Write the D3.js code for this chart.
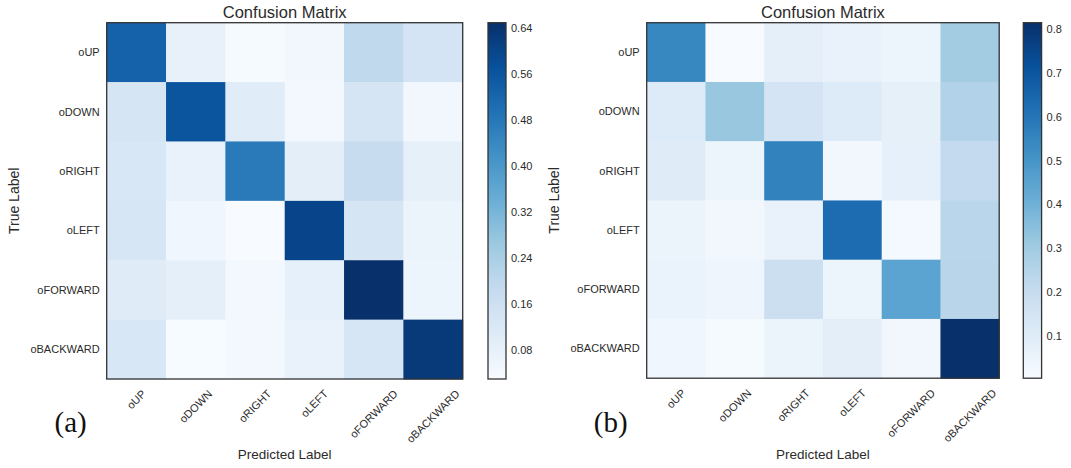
<!DOCTYPE html>
<html>
<head>
<meta charset="utf-8">
<title>Confusion Matrix</title>
<script src="https://cdn.jsdelivr.net/npm/d3@7"></script>
<style>
  body { margin: 0; background: #fff; font-family: "Liberation Sans", Arial, sans-serif; }
  svg text { fill: #2b2b2b; }
</style>
</head>
<body>
<svg id="chart" width="1071" height="468"></svg>
<script>
// class labels (same for rows and columns)
var labels = ["oUP", "oDOWN", "oRIGHT", "oLEFT", "oFORWARD", "oBACKWARD"];

// (a) normalised confusion matrix, rows = true label
var matrixA = [
  [0.530, 0.076, 0.034, 0.048, 0.194, 0.139],
  [0.134, 0.562, 0.100, 0.042, 0.136, 0.046],
  [0.128, 0.072, 0.474, 0.090, 0.178, 0.084],
  [0.132, 0.052, 0.029, 0.603, 0.134, 0.066],
  [0.104, 0.086, 0.044, 0.082, 0.650, 0.060],
  [0.126, 0.031, 0.044, 0.074, 0.130, 0.626]
];
// (b)
var matrixB = [
  [0.545, 0.004, 0.080, 0.060, 0.044, 0.295],
  [0.109, 0.318, 0.149, 0.109, 0.074, 0.260],
  [0.100, 0.044, 0.560, 0.027, 0.072, 0.212],
  [0.052, 0.027, 0.060, 0.628, 0.019, 0.236],
  [0.056, 0.040, 0.182, 0.044, 0.449, 0.242],
  [0.035, 0.011, 0.052, 0.084, 0.027, 0.815]
];

var ticksA = [0.08, 0.16, 0.24, 0.32, 0.40, 0.48, 0.56, 0.64];
var ticksB = [0.1, 0.2, 0.3, 0.4, 0.5, 0.6, 0.7, 0.8];

// matplotlib "Blues"
var blues = ["#f7fbff", "#deebf7", "#c6dbef", "#9ecae1", "#6baed6",
             "#4292c6", "#2171b5", "#08519c", "#08306b"];

var svg = d3.select("#chart");

function drawPanel(id, matrix, ticks, tickFmt, tag, box) {
  var flat = d3.merge(matrix);
  var vmin = d3.min(flat), vmax = d3.max(flat);
  var color = d3.scaleLinear()
      .domain(blues.map(function(c, i) { return vmin + i / 8 * (vmax - vmin); }))
      .range(blues)
      .interpolate(d3.interpolateRgb);

  var x = d3.scaleBand().domain(labels).range([box.x, box.x + box.w]);
  var y = d3.scaleBand().domain(labels).range([box.y, box.y + box.h]);

  var g = svg.append("g").attr("id", id);

  // cells
  matrix.forEach(function(row, i) {
    g.selectAll(null)
      .data(row)
      .enter().append("rect")
      .attr("x", function(d, j) { return x(labels[j]); })
      .attr("y", y(labels[i]))
      .attr("width", x.bandwidth() + 0.5)
      .attr("height", y.bandwidth() + 0.5)
      .attr("fill", function(d) { return color(d); });
  });

  g.append("rect")
    .attr("x", box.x).attr("y", box.y)
    .attr("width", box.w).attr("height", box.h)
    .attr("fill", "none").attr("stroke", "#333").attr("stroke-width", 1.3);

  // title
  g.append("text")
    .attr("x", box.x + box.w / 2).attr("y", 18)
    .attr("text-anchor", "middle")
    .style("font-size", "16.5px")
    .text("Confusion Matrix");

  // y tick labels
  g.selectAll(".ylab")
    .data(labels)
    .enter().append("text")
    .attr("class", "ylab")
    .attr("x", box.x - 7)
    .attr("y", function(d) { return y(d) + y.bandwidth() / 2; })
    .attr("dy", "0.35em")
    .attr("text-anchor", "end")
    .style("font-size", "11px")
    .text(function(d) { return d; });

  // x tick labels, rotated 45deg, bbox centred on tick
  var top = box.y + box.h + 9;
  g.selectAll(".xlab")
    .data(labels)
    .enter().append("text")
    .attr("class", "xlab")
    .attr("text-anchor", "middle")
    .attr("dy", "0.35em")
    .style("font-size", "11px")
    .text(function(d) { return d; })
    .each(function(d) {
      var w = this.getComputedTextLength();
      var cx = x(d) + x.bandwidth() / 2;
      var cy = top + (w + 11) / (2 * Math.SQRT2);
      d3.select(this).attr("transform", "translate(" + cx + "," + cy + ") rotate(-45)");
    });

  // axis titles
  g.append("text")
    .attr("transform", "translate(" + (box.x - 88) + "," + (box.y + box.h / 2) + ") rotate(-90)")
    .attr("text-anchor", "middle")
    .style("font-size", "14px")
    .text("True Label");

  g.append("text")
    .attr("x", box.x + box.w / 2).attr("y", 459)
    .attr("text-anchor", "middle")
    .style("font-size", "13.5px")
    .text("Predicted Label");

  // panel tag
  g.append("text")
    .attr("x", box.x - 36).attr("y", 432)
    .attr("text-anchor", "middle")
    .style("font-family", "'Liberation Serif', 'DejaVu Serif', serif")
    .style("font-size", "29px")
    .style("fill", "#111")
    .text(tag);

  // colorbar
  var cb = box.cb;
  var cy = d3.scaleLinear().domain([vmin, vmax]).range([box.y + box.h, box.y]);
  var grad = svg.append("defs").append("linearGradient")
    .attr("id", id + "grad")
    .attr("x1", 0).attr("y1", 1).attr("x2", 0).attr("y2", 0);
  grad.selectAll("stop")
    .data(d3.range(0, 1.0001, 1 / 32))
    .enter().append("stop")
    .attr("offset", function(t) { return t; })
    .attr("stop-color", function(t) { return color(vmin + t * (vmax - vmin)); });

  g.append("rect")
    .attr("x", cb.x).attr("y", box.y)
    .attr("width", cb.w).attr("height", box.h)
    .attr("fill", "url(#" + id + "grad)")
    .attr("stroke", "#333").attr("stroke-width", 1.3);

  g.selectAll(".cbtick")
    .data(ticks)
    .enter().append("text")
    .attr("class", "cbtick")
    .attr("x", cb.x + cb.w + 5)
    .attr("y", function(d) { return cy(d); })
    .attr("dy", "0.35em")
    .style("font-size", "11px")
    .text(tickFmt);
}

drawPanel("pa", matrixA, ticksA, d3.format(".2f"), "(a)",
  { x: 106.7, y: 22.7, w: 356, h: 356.3, cb: { x: 488, w: 18 } });
drawPanel("pb", matrixB, ticksB, d3.format(".1f"), "(b)",
  { x: 646.7, y: 22.7, w: 352.5, h: 355.5, cb: { x: 1023.3, w: 18.3 } });
</script>
</body>
</html>
